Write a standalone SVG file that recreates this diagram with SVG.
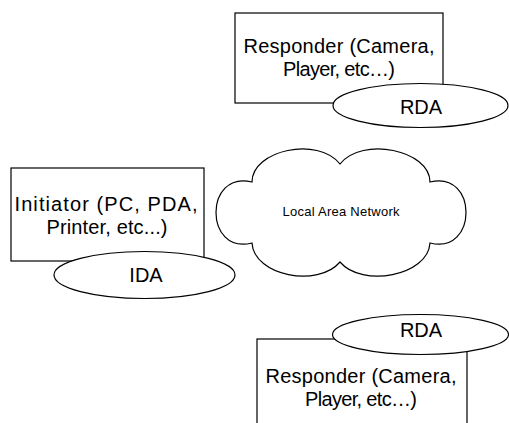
<svg xmlns="http://www.w3.org/2000/svg" width="509" height="423" viewBox="0 0 509 423">
<style>
.shape{fill:#fff;stroke:#000;stroke-width:1.2}
.t{font-family:"Liberation Sans",Arial,sans-serif;font-size:20px;fill:#000;text-anchor:middle}
.s{font-family:"Liberation Sans",Arial,sans-serif;font-size:13px;fill:#000;text-anchor:middle}
</style>
<rect width="509" height="423" fill="#fff"/>
<g id="connectors"></g>
<g id="lan">
<path class="shape" d="M252,182 C252,150 318,136 340,164 C362,136 430,150 430,182 C478,170 478,255 430,243 C428,276 362,288 340,262 C318,288 254,276 252,243 C204,255 204,170 252,182 Z"/>
<text class="s" x="341" y="216" textLength="117" lengthAdjust="spacing">Local Area Network</text>
</g>
<g id="responder-top">
<rect class="shape" x="235" y="13" width="208" height="90"/>
<text class="t" x="339" y="53" textLength="191" lengthAdjust="spacing">Responder (Camera,</text>
<text class="t" x="339" y="76" textLength="112" lengthAdjust="spacing">Player, etc…)</text>
</g>
<g id="rda-top">
<ellipse class="shape" cx="420.5" cy="105.5" rx="87.5" ry="22"/>
<text class="t" x="421" y="114">RDA</text>
</g>
<g id="initiator">
<rect class="shape" x="11" y="168" width="193" height="93"/>
<text class="t" x="106" y="211" textLength="183" lengthAdjust="spacing">Initiator (PC, PDA,</text>
<text class="t" x="107" y="234" textLength="121" lengthAdjust="spacing">Printer, etc...)</text>
</g>
<g id="ida">
<ellipse class="shape" cx="144.5" cy="275" rx="90.5" ry="23.5"/>
<text class="t" x="146" y="282">IDA</text>
</g>
<g id="responder-bottom">
<rect class="shape" x="257" y="339" width="210" height="100"/>
<text class="t" x="361" y="383" textLength="191" lengthAdjust="spacing">Responder (Camera,</text>
<text class="t" x="361" y="406" textLength="112" lengthAdjust="spacing">Player, etc…)</text>
</g>
<g id="rda-bottom">
<ellipse class="shape" cx="420.5" cy="334.5" rx="88" ry="20"/>
<text class="t" x="421" y="337">RDA</text>
</g>
</svg>
